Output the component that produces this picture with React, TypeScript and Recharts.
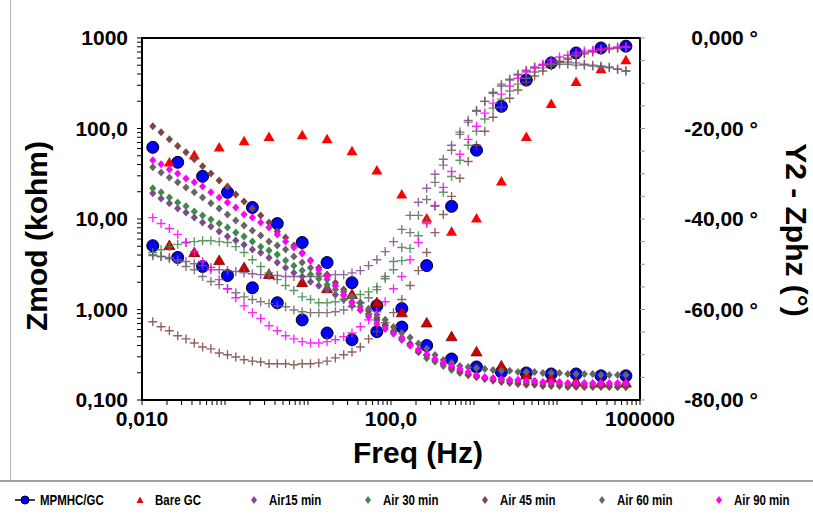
import React from "react";
import { ScatterChart, Scatter, XAxis, YAxis, ReferenceArea } from "recharts";

// frequency grid (Hz), 10 points per decade
const freq = [
  0.1349, 0.1698, 0.2138, 0.2692, 0.3388, 0.4266, 0.537, 0.6761, 0.8511, 1.072,
  1.349, 1.698, 2.138, 2.692, 3.388, 4.266, 5.37, 6.761, 8.511, 10.72,
  13.49, 16.98, 21.38, 26.92, 33.88, 42.66, 53.7, 67.61, 85.11, 107.2,
  134.9, 169.8, 213.8, 269.2, 338.8, 426.6, 537, 676.1, 851.1, 1072,
  1349, 1698, 2138, 2692, 3388, 4266, 5370, 6761, 8511, 10720,
  13490, 16980, 21380, 26920, 33880, 42660, 53700, 67610,
];

// MPMHC/GC and Bare GC were plotted every 3rd point
const mpmhcIdx = [0, 3, 6, 9, 12, 15, 18, 21, 24, 27, 30, 33, 36, 39, 42, 45, 48, 51, 54, 57];
const bareIdx = [2, 5, 8, 11, 14, 18, 21, 24, 27, 30, 33, 36, 39, 42, 45, 48, 51, 54, 57];

// Zmod in kohm, phase in degrees
const mpmhcZ = [61.9, 42.3, 29.6, 19.7, 13.4, 8.9, 5.5, 3.3, 1.98, 1.1, 0.64, 0.4, 0.284, 0.232, 0.204, 0.199, 0.194, 0.194, 0.185, 0.185];
const mpmhcP = [-45.9, -48.5, -50.5, -52.5, -55.2, -58.5, -62.3, -65.2, -66.7, -64.9, -59.8, -50.3, -37.2, -24.8, -15.1, -9.3, -5.5, -3.3, -2.2, -1.8];

const bareZ = [5.08, 4.25, 3.47, 2.9, 2.43, 1.98, 1.7, 1.46, 1.19, 0.92, 0.71, 0.5, 0.34, 0.238, 0.189, 0.175, 0.158, 0.154, 0.154];
const bareP = [-27.5, -25.9, -24.2, -22.8, -21.9, -21.5, -22.4, -25.0, -29.3, -34.6, -39.9, -42.8, -39.9, -31.7, -21.9, -14.6, -9.7, -6.9, -4.9];

const air15Z = [
  19.2, 16.9, 14.9, 13.1, 11.8, 10.4, 9.14, 8.26, 7.27, 6.4,
  5.78, 5.21, 4.59, 4.25, 3.74, 3.3, 2.9, 2.55, 2.31, 2.03,
  1.83, 1.66, 1.46, 1.28, 1.1, 0.99, 0.875, 0.77, 0.66, 0.57,
  0.49, 0.42, 0.36, 0.315, 0.277, 0.25, 0.226, 0.21, 0.194, 0.185,
  0.175, 0.171, 0.167, 0.163, 0.163, 0.158, 0.158, 0.154, 0.154, 0.154,
  0.15, 0.15, 0.15, 0.15, 0.147, 0.147, 0.147, 0.147,
];
const air15P = [
  -48.1, -48.3, -48.5, -49.0, -49.4, -49.9, -50.3, -50.7, -51.2, -51.4,
  -51.6, -51.9, -52.1, -52.3, -52.5, -52.5, -52.7, -52.7, -52.7, -52.7,
  -52.7, -52.5, -52.3, -52.3, -51.9, -51.4, -50.3, -49.0, -47.2, -45.0,
  -42.3, -39.2, -36.3, -33.2, -30.1, -26.8, -23.7, -20.8, -18.2, -16.0,
  -14.0, -12.2, -10.6, -9.3, -8.2, -7.3, -6.6, -6.0, -5.5, -5.3,
  -5.3, -5.5, -5.8, -6.0, -6.2, -6.4, -6.9, -7.3,
];

const air30Z = [
  21.8, 19.7, 17.3, 15.2, 13.8, 12.1, 10.9, 9.86, 8.91, 8.05,
  7.08, 6.4, 5.64, 4.95, 4.48, 4.04, 3.47, 3.05, 2.69, 2.43,
  2.19, 1.88, 1.66, 1.42, 1.22, 1.07, 0.9, 0.75, 0.64, 0.55,
  0.46, 0.4, 0.34, 0.29, 0.264, 0.238, 0.215, 0.199, 0.189, 0.18,
  0.175, 0.171, 0.167, 0.163, 0.158, 0.154, 0.154, 0.15, 0.15, 0.147,
  0.147, 0.147, 0.143, 0.143, 0.143, 0.143, 0.139, 0.139,
];
const air30P = [
  -47.9, -46.8, -46.1, -45.6, -45.2, -45.0, -44.8, -44.8, -45.0, -45.2,
  -46.1, -47.4, -49.0, -50.5, -51.9, -53.4, -54.7, -55.8, -57.2, -57.8,
  -58.5, -58.5, -58.3, -57.8, -57.4, -56.7, -56.1, -55.0, -53.2, -51.2,
  -49.2, -46.5, -43.7, -40.6, -37.2, -34.1, -30.6, -27.0, -23.7, -20.6,
  -17.9, -15.5, -13.5, -11.7, -10.2, -8.9, -7.5, -6.6, -5.8, -5.1,
  -4.4, -3.8, -3.3, -2.9, -2.7, -2.4, -2.2, -2.0,
];

const air45Z = [
  106, 91, 76, 64, 54.5, 45.6, 38.2, 31.9, 26.7, 22.9,
  18.7, 15.6, 13.1, 10.9, 9.14, 7.27, 6.23, 5.08, 4.25, 3.47,
  2.9, 2.43, 1.98, 1.66, 1.38, 1.19, 0.97, 0.81, 0.68, 0.57,
  0.47, 0.41, 0.34, 0.31, 0.277, 0.257, 0.226, 0.204, 0.189, 0.18,
  0.171, 0.163, 0.158, 0.154, 0.15, 0.147, 0.147, 0.143, 0.143, 0.143,
  0.139, 0.139, 0.139, 0.139, 0.139, 0.139, 0.139, 0.139,
];
const air45P = [
  -62.7, -63.8, -64.7, -65.8, -66.5, -67.4, -68.3, -68.7, -69.6, -70.0,
  -70.5, -71.1, -71.4, -71.6, -72.0, -72.0, -72.0, -72.2, -72.0, -72.0,
  -71.8, -71.4, -70.7, -70.0, -69.4, -68.3, -66.5, -64.9, -62.9, -60.7,
  -57.8, -54.7, -51.4, -47.4, -43.0, -39.0, -35.0, -31.0, -27.3, -23.7,
  -20.6, -17.5, -15.3, -13.3, -11.5, -9.8, -8.4, -7.3, -6.2, -5.3,
  -4.7, -4.0, -3.5, -3.1, -2.7, -2.4, -2.2, -2.0,
];

const air60Z = [
  37.3, 32.7, 28.8, 25.4, 22.3, 19.7, 17.3, 14.9, 13.1, 11.2,
  9.62, 8.47, 7.46, 6.56, 5.64, 5.08, 4.59, 3.84, 3.3, 2.9,
  2.49, 2.14, 1.83, 1.57, 1.38, 1.19, 1.02, 0.875, 0.77, 0.64,
  0.55, 0.49, 0.42, 0.37, 0.315, 0.277, 0.257, 0.238, 0.232, 0.226,
  0.22, 0.215, 0.21, 0.21, 0.204, 0.204, 0.204, 0.199, 0.199, 0.199,
  0.194, 0.194, 0.194, 0.194, 0.189, 0.189, 0.189, 0.189,
];
const air60P = [
  -47.4, -48.3, -48.8, -49.4, -50.5, -51.2, -52.7, -53.8, -54.5, -55.4,
  -56.3, -57.2, -57.8, -58.3, -58.7, -59.2, -59.4, -60.1, -60.5, -60.7,
  -60.7, -60.7, -60.5, -60.1, -59.4, -58.5, -57.4, -55.6, -52.7, -49.4,
  -46.3, -43.0, -39.2, -35.7, -31.9, -28.1, -24.8, -21.3, -18.6, -16.2,
  -14.0, -12.0, -10.2, -9.1, -8.0, -7.1, -6.4, -6.0, -5.8, -5.8,
  -5.8, -6.0, -6.0, -6.2, -6.4, -6.6, -6.9, -7.3,
];

const air90Z = [
  44.5, 40.2, 35.3, 31.9, 28.1, 25.4, 22.9, 19.7, 17.3, 15.2,
  13.4, 11.2, 10.4, 9.14, 8.05, 6.73, 5.64, 4.83, 4.15, 3.47,
  2.75, 2.31, 1.83, 1.46, 1.19, 0.99, 0.83, 0.695, 0.61, 0.54,
  0.47, 0.4, 0.36, 0.32, 0.284, 0.257, 0.238, 0.22, 0.204, 0.189,
  0.18, 0.175, 0.171, 0.167, 0.167, 0.163, 0.163, 0.158, 0.158, 0.158,
  0.154, 0.154, 0.154, 0.154, 0.154, 0.154, 0.154, 0.154,
];
const air90P = [
  -39.7, -41.0, -42.1, -43.4, -45.2, -47.2, -49.4, -51.2, -53.4, -55.4,
  -57.4, -59.2, -60.7, -62.0, -63.6, -64.7, -65.8, -66.5, -67.1, -67.4,
  -67.4, -67.1, -66.7, -66.0, -65.2, -63.8, -62.3, -60.5, -58.3, -55.4,
  -52.7, -49.0, -45.2, -41.0, -37.0, -33.0, -29.5, -25.7, -22.4, -19.5,
  -16.6, -14.4, -12.4, -10.6, -8.9, -7.5, -6.6, -5.8, -4.9, -4.2,
  -3.8, -3.3, -2.9, -2.7, -2.4, -2.2, -2.0, -2.0,
];

// tick labels as printed on the original
const xLabelTicks = [0.1, 100, 100000];
const xTickLabels = ["0,010", "100,0", "100000"];
const zLabelTicks = [0.1, 1, 10, 100, 1000];
const zTickLabels = ["0,100", "1,000", "10,00", "100,0", "1000"];
const pLabelTicks = [-80, -60, -40, -20, 0];
const pTickLabels = ["-80,00 °", "-60,00 °", "-40,00 °", "-20,00 °", "0,000 °"];

const FONT = "'Liberation Sans', Arial, sans-serif";

const logTicks = (from: number, to: number) => {
  const out: number[] = [];
  for (let e = from; e < to; e++) {
    for (let m = 1; m < 10; m++) out.push(m * Math.pow(10, e));
  }
  out.push(Math.pow(10, to));
  return out;
};
const xTicks = logTicks(-1, 5);
const zTicks = logTicks(-1, 3);
const pTicks = Array.from({ length: 17 }, (_, i) => -80 + i * 5);

const pts = (vals: number[], idx?: number[]) =>
  vals.map((v, i) => ({ f: freq[idx ? idx[i] : i], v }));

type ShapeProps = { cx?: number; cy?: number };

const dot = (color: string) => (p: ShapeProps) => (
  <circle cx={p.cx} cy={p.cy} r={6} fill={color} stroke="#000" strokeWidth={1} />
);
const tri = (color: string, edge?: string) => (p: ShapeProps) => {
  const x = p.cx ?? 0;
  const y = p.cy ?? 0;
  return (
    <path
      d={`M${x},${y - 5.5}L${x + 5.5},${y + 4}L${x - 5.5},${y + 4}Z`}
      fill={color}
      stroke={edge ?? "none"}
      strokeWidth={0.8}
    />
  );
};
const diamond = (color: string) => (p: ShapeProps) => {
  const x = p.cx ?? 0;
  const y = p.cy ?? 0;
  return <path d={`M${x},${y - 4}L${x + 3.6},${y}L${x},${y + 4}L${x - 3.6},${y}Z`} fill={color} />;
};
const plus = (color: string) => (p: ShapeProps) => {
  const x = p.cx ?? 0;
  const y = p.cy ?? 0;
  return (
    <path
      d={`M${x - 4.5},${y}H${x + 4.5}M${x},${y - 4.5}V${y + 4.5}`}
      stroke={color}
      strokeWidth={1.4}
      strokeOpacity={0.85}
    />
  );
};

const series = [
  { name: "MPMHC/GC", color: "#0000ff", z: pts(mpmhcZ, mpmhcIdx), p: pts(mpmhcP, mpmhcIdx), zs: dot("#0000ff"), ps: dot("#0000ff") },
  { name: "Bare GC", color: "#ee0000", z: pts(bareZ, bareIdx), p: pts(bareP, bareIdx), zs: tri("#d00000", "#800000"), ps: tri("#ff0000") },
  { name: "Air15 min", color: "#7f4a8c", z: pts(air15Z), p: pts(air15P), zs: diamond("#7f4a8c"), ps: plus("#7f4a8c") },
  { name: "Air 30 min", color: "#3f8a48", z: pts(air30Z), p: pts(air30P), zs: diamond("#3f8a48"), ps: plus("#3f8a48") },
  { name: "Air 45 min", color: "#7f4444", z: pts(air45Z), p: pts(air45P), zs: diamond("#7f4444"), ps: plus("#7f4444") },
  { name: "Air 60 min", color: "#666666", z: pts(air60Z), p: pts(air60P), zs: diamond("#666666"), ps: plus("#666666") },
  { name: "Air 90 min", color: "#ff00ff", z: pts(air90Z), p: pts(air90P), zs: diamond("#ff00ff"), ps: plus("#ff00ff") },
];

const tickText = { fontFamily: FONT, fontSize: 21, fontWeight: 700, fill: "#000" };

const XTick = (props: any) => {
  const i = xLabelTicks.indexOf(props.payload.value);
  if (i < 0) return <g />;
  return (
    <text x={props.x} y={props.y + 19} textAnchor="middle" {...tickText}>
      {xTickLabels[i]}
    </text>
  );
};
const ZTick = (props: any) => {
  const i = zLabelTicks.indexOf(props.payload.value);
  if (i < 0) return <g />;
  return (
    <text x={props.x - 7} y={props.y} dy={7} textAnchor="end" {...tickText}>
      {zTickLabels[i]}
    </text>
  );
};
const PTick = (props: any) => {
  const i = pLabelTicks.indexOf(props.payload.value);
  if (i < 0) return <g />;
  return (
    <text x={props.x + 111} y={props.y} dy={7} textAnchor="end" {...tickText}>
      {pTickLabels[i]}
    </text>
  );
};

const titleText = { fontFamily: FONT, fontSize: 30, fontWeight: 700, fill: "#000" };

const LegendMark = ({ idx, color }: { idx: number; color: string }) => (
  <svg width={22} height={14} style={{ display: "block" }}>
    {idx === 0 && <line x1={1} y1={7} x2={21} y2={7} stroke="#000" strokeWidth={1.5} />}
    {idx === 0 && <circle cx={11} cy={7} r={4} fill={color} stroke="#000" strokeWidth={1} />}
    {idx === 1 && <path d="M11,3.5L14.5,10L7.5,10Z" fill={color} />}
    {idx > 1 && <path d="M11,3L14,7L11,11L8,7Z" fill={color} />}
  </svg>
);

const legendX = [14, 129, 243, 357, 474, 591, 708];

export default function App() {
  return (
    <div style={{ position: "relative", width: 813, height: 515, background: "#fff", overflow: "hidden" }}>
      <style>{`body{margin:0}`}</style>
      <div style={{ position: "absolute", left: 10, top: 0, width: 1, height: 480, background: "#b0b0b0" }} />
      <div style={{ position: "absolute", left: 0, top: 480, width: 813, height: 2, background: "#a0a0a0" }} />
      <div style={{ position: "absolute", left: 0, top: 0 }}>
        <ScatterChart width={813} height={480} margin={{ top: 38, right: 0, bottom: 0, left: 0 }}>
          <XAxis
            dataKey="f"
            type="number"
            scale="log"
            domain={[0.1, 100000]}
            ticks={xTicks}
            interval={0}
            allowDataOverflow
            height={80}
            axisLine={false}
            tickLine={{ stroke: "#000", strokeWidth: 1 }}
            tickSize={5}
            tick={<XTick />}
            label={() => (
              <text x={418} y={452} textAnchor="middle" dominantBaseline="central" {...titleText}>
                Freq (Hz)
              </text>
            )}
          />
          <YAxis
            yAxisId="z"
            dataKey="v"
            type="number"
            scale="log"
            domain={[0.1, 1000]}
            ticks={zTicks}
            interval={0}
            allowDataOverflow
            width={142}
            axisLine={false}
            tickLine={{ stroke: "#000", strokeWidth: 1 }}
            tickSize={5}
            tick={<ZTick />}
            label={() => (
              <text
                x={36}
                y={236}
                textAnchor="middle"
                dominantBaseline="central"
                transform="rotate(-90 36 236)"
                {...titleText}
              >
                Zmod (kohm)
              </text>
            )}
          />
          <YAxis
            yAxisId="p"
            orientation="right"
            dataKey="v"
            type="number"
            domain={[-80, 0]}
            ticks={pTicks}
            interval={0}
            allowDataOverflow
            width={173}
            axisLine={false}
            tickLine={{ stroke: "#999", strokeWidth: 1 }}
            tickSize={5}
            tick={<PTick />}
            label={() => (
              <text
                x={796}
                y={230}
                textAnchor="middle"
                dominantBaseline="central"
                transform="rotate(90 796 230)"
                {...titleText}
              >
                Y2 - Zphz (°)
              </text>
            )}
          />
          {series.map((s) => [
            <Scatter
              key={s.name + "-z"}
              name={s.name}
              data={s.z}
              yAxisId="z"
              shape={s.zs}
              isAnimationActive={false}
            />,
            <Scatter
              key={s.name + "-p"}
              name={s.name + " phase"}
              data={s.p}
              yAxisId="p"
              shape={s.ps}
              isAnimationActive={false}
            />,
          ])}
          <ReferenceArea
            yAxisId="z"
            x1={0.1}
            x2={100000}
            y1={0.1}
            y2={1000}
            fill="none"
            fillOpacity={0}
            stroke="#000"
            strokeWidth={2}
            ifOverflow="visible"
          />
        </ScatterChart>
      </div>
      {series.map((s, i) => (
        <div
          key={s.name}
          style={{
            position: "absolute",
            left: legendX[i],
            top: 492,
            display: "flex",
            alignItems: "center",
            gap: 4,
            fontFamily: FONT,
            fontSize: 14,
            fontWeight: 700,
            color: "#000",
            whiteSpace: "nowrap",
          }}
        >
          <LegendMark idx={i} color={s.color} />
          <span style={{ display: "inline-block", transform: "scaleX(0.82)", transformOrigin: "left center" }}>
            {s.name}
          </span>
        </div>
      ))}
    </div>
  );
}
